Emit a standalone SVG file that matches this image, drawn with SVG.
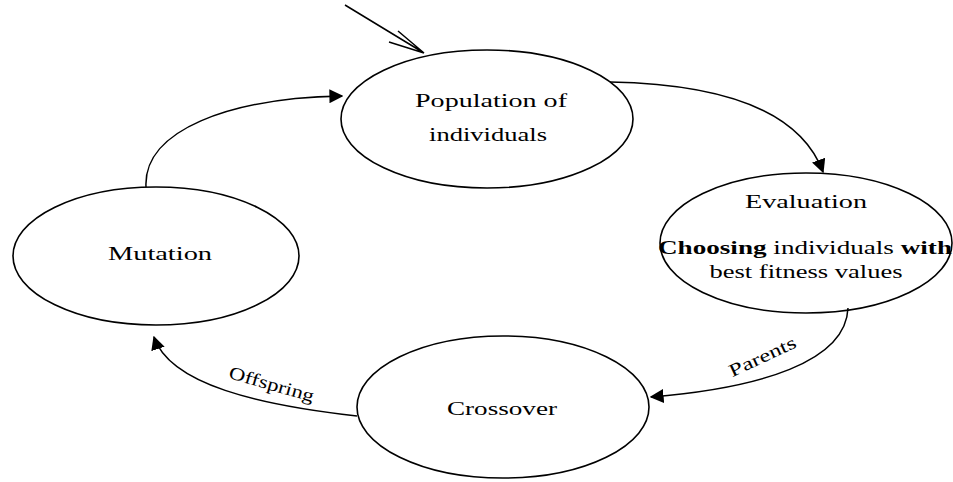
<svg xmlns="http://www.w3.org/2000/svg" width="953" height="482" viewBox="0 0 953 482">
<style>
.node ellipse{fill:#fff;stroke:#000;stroke-width:1.6}
.lbl{font-family:"Liberation Serif","Times New Roman",serif;font-size:18px;fill:#000;text-anchor:middle}
.edge{fill:none;stroke:#000;stroke-width:1.5}
</style>
<defs>
<marker id="ah" viewBox="0 0 10 10" refX="9" refY="5" markerWidth="14" markerHeight="14" markerUnits="userSpaceOnUse" orient="auto">
<path d="M0,0 L10,5 L0,10 z" fill="#000"/>
</marker>
</defs>
<rect width="953" height="482" fill="#fff"/>
<g id="population" class="node">
<ellipse cx="487" cy="119" rx="146" ry="69"/>
<text class="lbl" x="491" y="107" textLength="152" lengthAdjust="spacingAndGlyphs">Population of</text>
<text class="lbl" x="488" y="141" textLength="118" lengthAdjust="spacingAndGlyphs">individuals</text>
</g>
<g id="evaluation" class="node">
<ellipse cx="806" cy="243" rx="146" ry="70"/>
<text class="lbl" x="806" y="208" textLength="122" lengthAdjust="spacingAndGlyphs">Evaluation</text>
<text class="lbl" x="805" y="254" textLength="294" lengthAdjust="spacingAndGlyphs"><tspan font-weight="bold">Choosing</tspan> individuals <tspan font-weight="bold">with</tspan></text>
<text class="lbl" x="806" y="278" textLength="193" lengthAdjust="spacingAndGlyphs">best fitness values</text>
</g>
<g id="mutation" class="node">
<ellipse cx="156" cy="256" rx="143" ry="69"/>
<text class="lbl" x="160" y="260" textLength="104" lengthAdjust="spacingAndGlyphs">Mutation</text>
</g>
<g id="crossover" class="node">
<ellipse cx="503" cy="407" rx="146" ry="71"/>
<text class="lbl" x="502" y="415" textLength="110" lengthAdjust="spacingAndGlyphs">Crossover</text>
</g>
<g id="connectors">
<path class="edge" d="M345,5 L424,53 M398,31 L424,53 M389,42 L424,53"/>
<path class="edge" d="M610,82 C720,84 800,110 823,172" marker-end="url(#ah)"/>
<path class="edge" d="M848,308 C846,362 760,388 651,397" marker-end="url(#ah)"/>
<path class="edge" d="M357,416 C260,405 170,385 154,337" marker-end="url(#ah)"/>
<path class="edge" d="M146,187 C143,130 230,98 342,96" marker-end="url(#ah)"/>
<text class="lbl" x="270" y="390" font-size="16" textLength="88" lengthAdjust="spacingAndGlyphs" transform="rotate(16 270 390)">Offspring</text>
<text class="lbl" x="765" y="362" font-size="16" textLength="72" lengthAdjust="spacingAndGlyphs" transform="rotate(-25 765 362)">Parents</text>
</g>
</svg>
